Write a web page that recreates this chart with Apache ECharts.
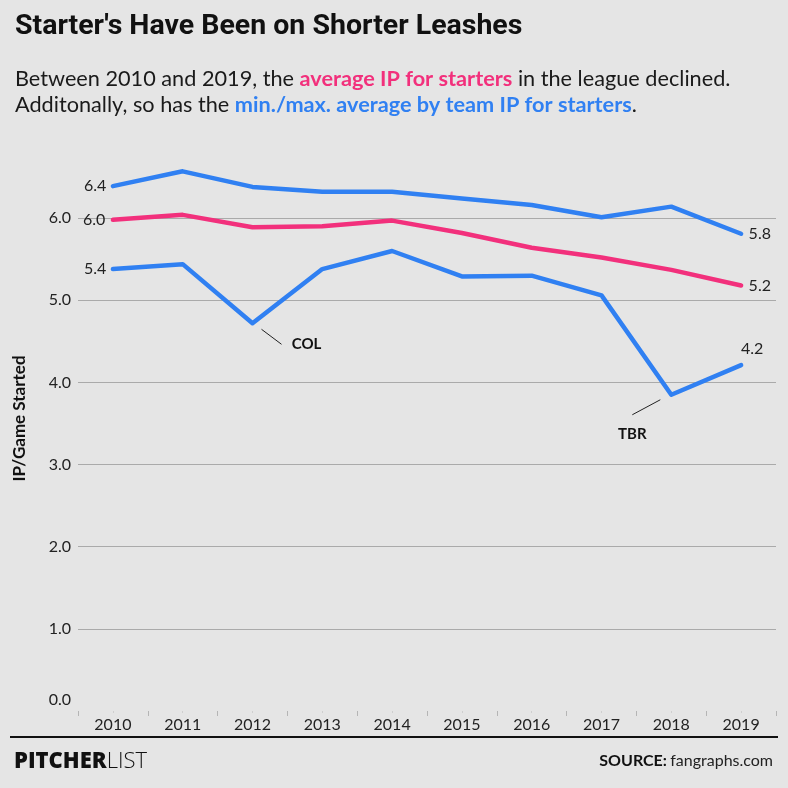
<!DOCTYPE html>
<html>
<head>
<meta charset="utf-8">
<script src="https://cdn.jsdelivr.net/npm/echarts@6/dist/echarts.min.js"></script>
<style>
html,body{margin:0;padding:0;background:#e5e5e5}
#main{width:788px;height:788px}
</style>
</head>
<body>
<div id="main"></div>
<script>
// IP per game started, 2010-2019
var years = ['2010','2011','2012','2013','2014','2015','2016','2017','2018','2019'];
var maxIP = [6.39, 6.57, 6.38, 6.32, 6.32, 6.24, 6.16, 6.01, 6.14, 5.81];
var avgIP = [5.98, 6.04, 5.89, 5.90, 5.97, 5.82, 5.64, 5.52, 5.37, 5.18];
var minIP = [5.38, 5.44, 4.72, 5.38, 5.60, 5.29, 5.30, 5.06, 3.85, 4.21];
// team call-outs on the min line: index -> name
var callouts = {2: 'COL', 8: 'TBR'};

var blue = '#3080F2';
var pink = '#F2307C';
var font = 'Lato';

var numLabel = {
	show: true,
	fontFamily: font,
	fontSize: 16,
	color: '#222',
	formatter: function(p) { return p.value.toFixed(1); }
};

function withLabels(values, labels) {
	return values.map(function(v, i) {
		var item = {value: v};
		if (labels[i]) item.label = Object.assign({}, numLabel, labels[i]);
		return item;
	});
}

var last = years.length - 1;
var maxLabels = {}; maxLabels[0] = {position: 'left', distance: 6}; maxLabels[last] = {position: 'right', distance: 7};
var avgLabels = {}; avgLabels[0] = {position: 'left', distance: 7}; avgLabels[last] = {position: 'right', distance: 7};
var minLabels = {}; minLabels[0] = {position: 'left', distance: 6}; minLabels[last] = {position: 'inside', offset: [11, -16]};
minLabels[2] = {position: 'inside', offset: [54, 21], fontWeight: 'bold', fontSize: 15, color: '#111', formatter: callouts[2]};
minLabels[8] = {position: 'inside', offset: [-39, 39], fontWeight: 'bold', fontSize: 15, color: '#111', formatter: callouts[8]};

function lineSeries(name, values, color, labels) {
	return {
		name: name,
		type: 'line',
		data: withLabels(values, labels),
		symbol: 'circle',
		symbolSize: 1,
		showSymbol: true,
		itemStyle: {color: 'rgba(0,0,0,0)', borderWidth: 0},
		lineStyle: {color: color, width: 4.5, cap: 'round', join: 'round'},
		emphasis: {disabled: true},
		silent: true,
		animation: false
	};
}

var myChart = echarts.init(document.getElementById('main'));

var footer = [
	{type: 'line', shape: {x1: 10, y1: 737, x2: 778, y2: 737}, style: {stroke: '#111', lineWidth: 2}},
	{type: 'text', style: {
		x: 14, y: 762, verticalAlign: 'middle',
		text: '{a|PITCHER}{b|LIST}',
		rich: {
			a: {fontFamily: 'Open Sans', fontSize: 22, fontWeight: 800, fill: '#111'},
			b: {fontFamily: 'Open Sans', fontSize: 22, fontWeight: 300, fill: '#111'}
		}
	}},
	{type: 'text', style: {
		x: 773, y: 761, align: 'right', verticalAlign: 'middle',
		text: '{a|SOURCE:} {b|fangraphs.com}',
		rich: {
			a: {fontFamily: font, fontSize: 16, fontWeight: 'bold', fill: '#111'},
			b: {fontFamily: font, fontSize: 16, fill: '#222'}
		}
	}}
];

var option = {
	backgroundColor: '#e5e5e5',
	animation: false,
	title: [{
		left: 15,
		top: 11,
		padding: 0,
		text: "Starter's Have Been on Shorter Leashes",
		textStyle: {fontFamily: 'Roboto', fontSize: 28.5, fontWeight: 'bold', color: '#111', lineHeight: 32}
	}, {
		left: 15,
		top: 66,
		padding: 0,
		text: 'Between 2010 and 2019, the {p|average IP for starters} in the league declined.\nAdditonally, so has the {b|min./max. average by team IP for starters}.',
		textStyle: {
			fontFamily: font, fontSize: 21.7, fontWeight: 'normal', color: '#1a1a1a', lineHeight: 26,
			rich: {
				p: {fontFamily: font, fontSize: 21.7, fontWeight: 'bold', color: pink, lineHeight: 26},
				b: {fontFamily: font, fontSize: 21.7, fontWeight: 'bold', color: blue, lineHeight: 26}
			}
		}
	}],
	grid: {left: 78, right: 12, top: 136, bottom: 77, containLabel: false, outerBoundsMode: 'none'},
	xAxis: [{
		type: 'category',
		data: years,
		boundaryGap: true,
		axisLine: {show: false},
		axisTick: {show: true, length: 5, interval: 0, lineStyle: {color: '#b5b5b5'}},
		axisLabel: {fontFamily: font, fontSize: 16, color: '#222', margin: 6, interval: 0},
		splitLine: {show: false}
	}, {
		type: 'category',
		data: years,
		position: 'bottom',
		axisLine: {show: false},
		axisTick: {show: true, alignWithLabel: true, length: 2, interval: 0, lineStyle: {color: '#cfcfcf'}},
		axisLabel: {show: false},
		splitLine: {show: false}
	}],
	yAxis: {
		type: 'value',
		min: 0,
		max: 7,
		interval: 1,
		name: 'IP/Game Started',
		nameLocation: 'middle',
		nameGap: 50,
		nameTextStyle: {fontFamily: font, fontSize: 17, fontWeight: 'bold', color: '#111', padding: [0, 0, 0, 10]},
		axisLine: {show: false},
		axisTick: {show: false},
		axisLabel: {
			fontFamily: font, fontSize: 16, color: '#222', margin: 7,
			formatter: function(v) {
				if (v === 7) return '';
				if (v === 0) return '{z|0.0}';
				return v.toFixed(1);
			},
			rich: {z: {fontFamily: font, fontSize: 16, color: '#222', padding: [0, 0, 22, 0]}}
		},
		splitLine: {
			show: true,
			lineStyle: {color: ['rgba(0,0,0,0)', '#aaaaaa', '#aaaaaa', '#aaaaaa', '#aaaaaa', '#aaaaaa', '#aaaaaa', 'rgba(0,0,0,0)'], width: 1}
		}
	},
	series: [
		lineSeries('max', maxIP, blue, maxLabels),
		lineSeries('avg', avgIP, pink, avgLabels),
		lineSeries('min', minIP, blue, minLabels)
	],
	graphic: footer
};
myChart.setOption(option);

// leader lines for the team call-outs, placed from the chart's own scale
var leaders = {2: [[9, 6], [29, 21]], 8: [[-11, 5], [-39, 20]]};
var extra = footer.slice();
Object.keys(leaders).forEach(function(k) {
	var i = +k;
	var pt = myChart.convertToPixel({seriesIndex: 2}, [i, minIP[i]]);
	var d = leaders[k];
	extra.push({
		type: 'line',
		shape: {x1: pt[0] + d[0][0], y1: pt[1] + d[0][1], x2: pt[0] + d[1][0], y2: pt[1] + d[1][1]},
		style: {stroke: '#222', lineWidth: 1}
	});
});
myChart.setOption({graphic: extra}, {replaceMerge: ['graphic']});
</script>
</body>
</html>
